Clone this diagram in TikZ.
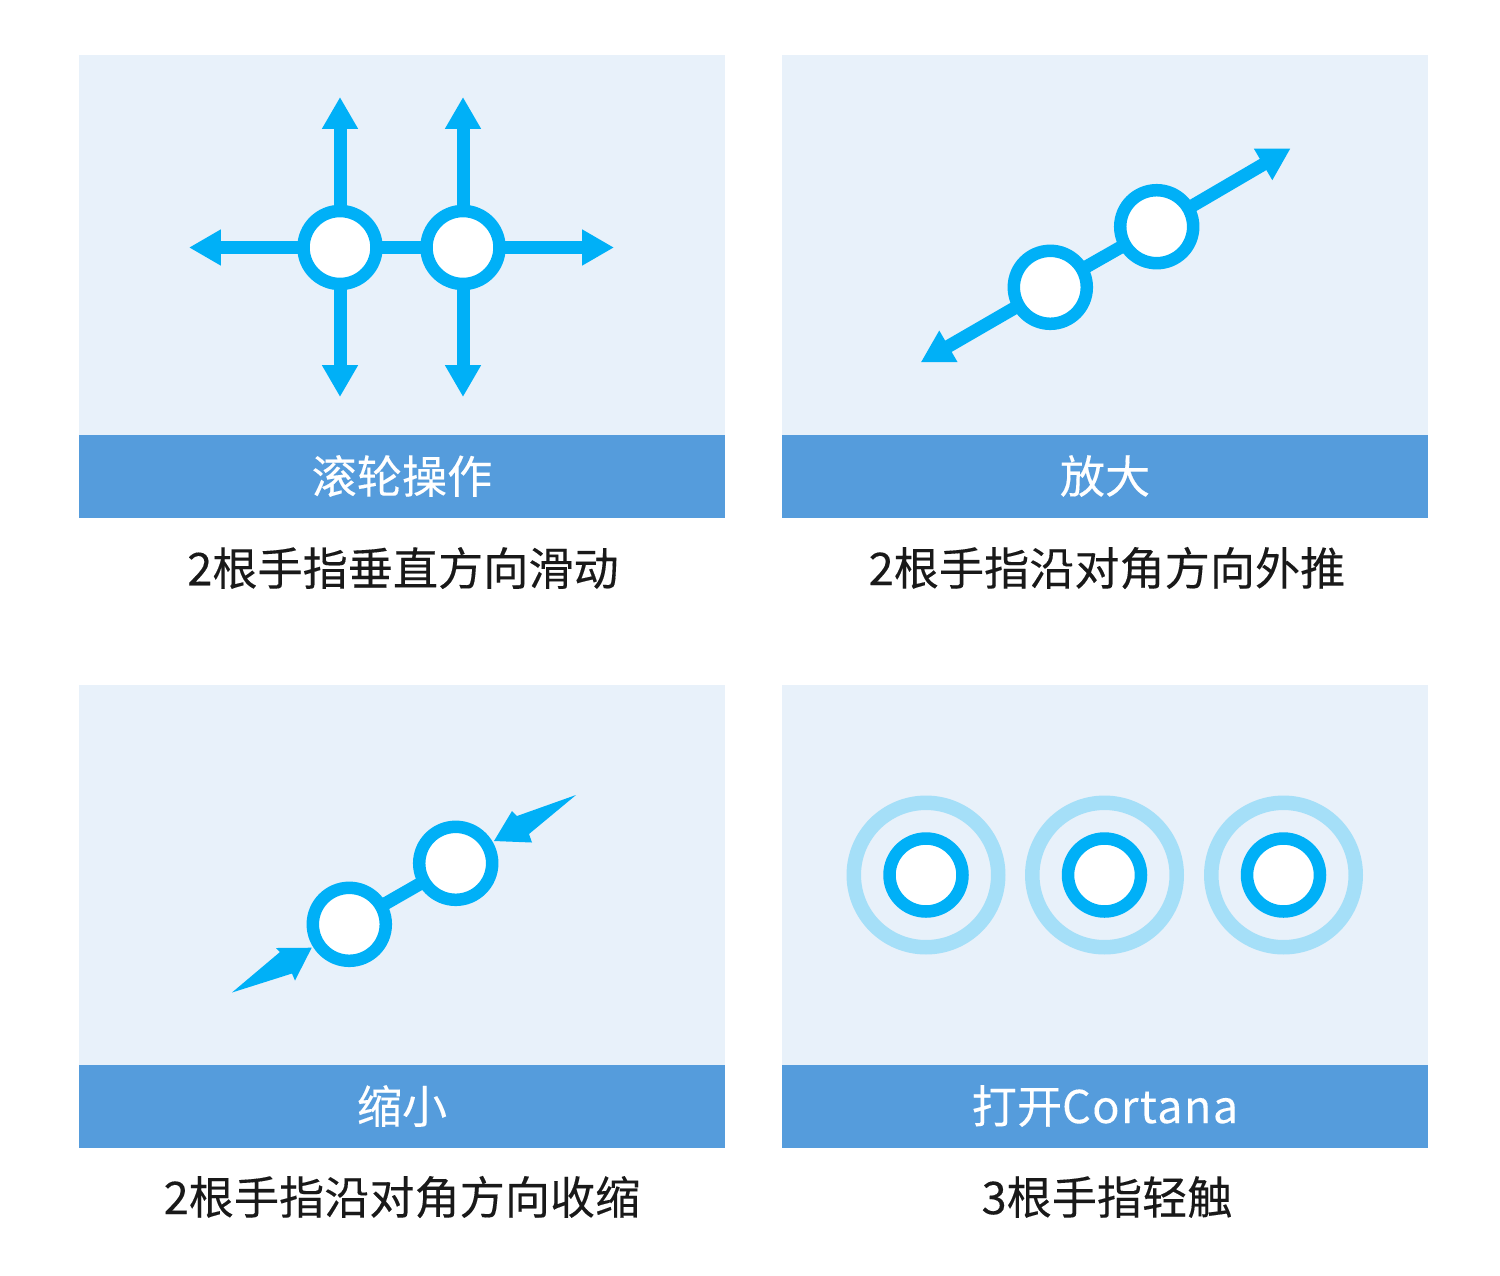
\documentclass[tikz,border=0pt]{standalone}
\usepackage{fontspec}
\setmainfont{Noto Sans CJK SC}[FakeBold=0.2]
\usetikzlibrary{arrows.meta}
\definecolor{panelblue}{HTML}{E8F1FA}
\definecolor{bandblue}{HTML}{559CDC}
\definecolor{touchblue}{HTML}{00B0F7}
\definecolor{haloblue}{HTML}{A5DFF8}
\tikzset{
  panel/.style={fill=panelblue,minimum width=12.92cm,minimum height=7.6cm,inner sep=0pt,outer sep=0pt},
  band/.style={fill=bandblue,text=white,minimum width=12.92cm,minimum height=1.66cm,inner sep=0pt,outer sep=0pt,
    font=\fontsize{25.7}{30}\selectfont},
  caption/.style={text=black!90,inner sep=0pt,font=\fontsize{25.7}{30}\selectfont},
  finger/.style={circle,draw=touchblue,fill=white,line width=0.25cm,minimum size=1.46cm,inner sep=0pt,outer sep=0pt},
  halo/.style={circle,draw=haloblue,line width=0.29cm,minimum size=2.89cm,inner sep=0pt,outer sep=0pt},
  swipe/.style={draw=touchblue,line width=0.26cm,-{Triangle[length=0.64cm,width=0.68cm]}},
  taper/.style={fill=touchblue}
}
\begin{document}
\begin{tikzpicture}[x=0.02cm,y=-0.02cm]
  \useasboundingbox (0,0) rectangle (1500,1275);
  % panels
  \node[panel] (wheelpanel) at (402,245) {};
  \node[panel] (zoominpanel) at (1105,245) {};
  \node[panel] (zoomoutpanel) at (402,875) {};
  \node[panel] (cortanapanel) at (1105,875) {};
  \node[band] (wheelband) at (402,476) {滚轮操作};
  \node[band] (zoominband) at (1105,476) {放大};
  \node[band] (zoomoutband) at (402,1106) {缩小};
  \node[band] (cortanaband) at (1105,1106) {打开{\addfontfeature{LetterSpace=3}Cortana}};
  \node[caption] (wheeltext) at (403,568) {2根手指垂直方向滑动};
  \node[caption] (zoomintext) at (1107,568) {2根手指沿对角方向外推};
  \node[caption] (zoomouttext) at (402,1197) {2根手指沿对角方向收缩};
  \node[caption] (cortanatext) at (1107,1197) {3根手指轻触};
  % wheel
  \node[finger] (wheelA) at (340,247.5) {};
  \node[finger] (wheelB) at (463,247.5) {};
  \coordinate (wheelAup) at (340,97);
  \coordinate (wheelAdown) at (340,397);
  \coordinate (wheelBup) at (463,97);
  \coordinate (wheelBdown) at (463,397);
  \coordinate (wheelleft) at (189,247.5);
  \coordinate (wheelright) at (614,247.5);
  \foreach \from/\to in {wheelA/wheelAup,wheelA/wheelAdown,wheelB/wheelBup,wheelB/wheelBdown,
    wheelA/wheelleft,wheelB/wheelright}
    \draw[swipe] (\from) -- (\to);
  \draw[draw=touchblue,line width=0.26cm] (wheelA) -- (wheelB);
  % zoom in
  \node[finger] (zoominA) at (1050.3,287.3) {};
  \node[finger] (zoominB) at (1156.7,226.7) {};
  \coordinate (zoominlow) at (920.7,362.3);
  \coordinate (zoominhigh) at (1290.7,148.3);
  \draw[swipe] (zoominA) -- (zoominlow);
  \draw[swipe] (zoominB) -- (zoominhigh);
  \draw[draw=touchblue,line width=0.26cm] (zoominA) -- (zoominB);
  % zoom out
  \node[finger] (zoomoutA) at (349.3,924.3) {};
  \node[finger] (zoomoutB) at (455.7,863.3) {};
  \draw[draw=touchblue,line width=0.26cm] (zoomoutA) -- (zoomoutB);
  \fill[taper] (494,841) -- (512,811) -- (517,816) -- (576,795)
    -- (529,834) -- (532,842.5) -- cycle;
  \fill[taper] (311.7,947.7) -- (276,948) -- (280,952) -- (232,992.5)
    -- (292,973.5) -- (295,980.5) -- cycle;
  % cortana
  \foreach \name/\cx in {tapA/926,tapB/1104.5,tapC/1283.5}{
    \node[halo] (\name halo) at (\cx,875) {};
    \node[finger] (\name) at (\cx,875) {};
  }
\end{tikzpicture}
\end{document}
